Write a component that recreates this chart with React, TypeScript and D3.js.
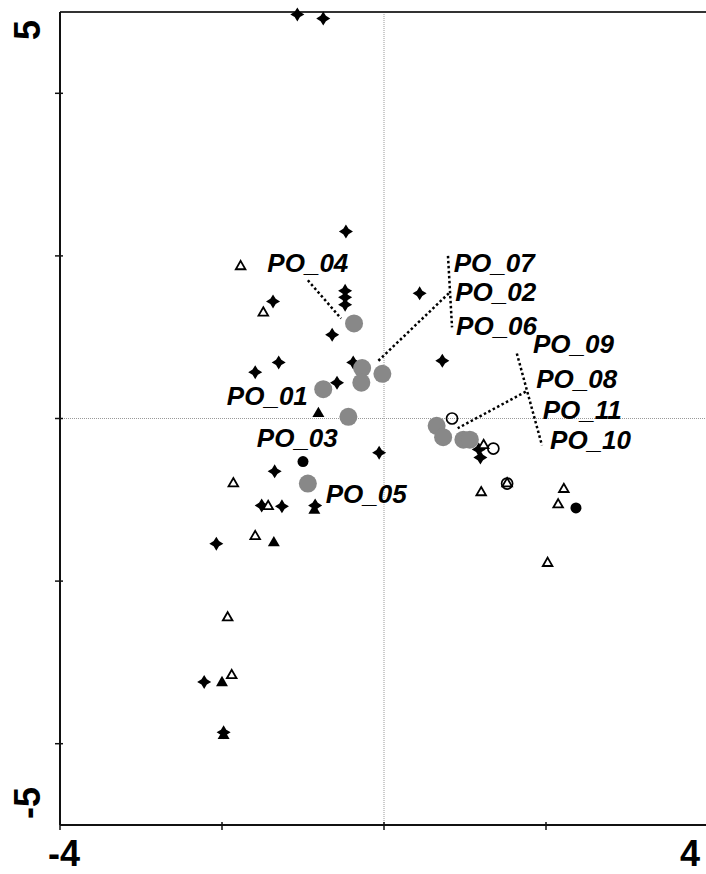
import React from "react";
import * as d3 from "d3";

// black marker groups, [x, y] in axis units
const stars: [number, number][] = [
  [-1.07, 4.97], [-0.75, 4.92], [-0.47, 2.30], [-0.48, 1.57], [-0.48, 1.49], [-0.48, 1.40],
  [-1.37, 1.44], [-0.64, 1.03], [-1.30, 0.69], [-1.59, 0.57], [-0.38, 0.69], [-0.58, 0.44],
  [0.44, 1.54], [0.72, 0.71], [-0.06, -0.42], [-1.35, -0.65], [-1.51, -1.07], [-1.26, -1.08],
  [-0.85, -1.07], [-2.07, -1.54], [1.17, -0.38], [1.19, -0.48], [-2.22, -3.24], [-1.98, -3.86],
];
const openTriangles: [number, number][] = [
  [-1.77, 1.87], [-1.49, 1.30], [-1.86, -0.80], [-1.43, -1.08], [-1.59, -1.45], [-1.93, -2.45],
  [-1.88, -3.16], [1.23, -0.33], [1.20, -0.91], [1.52, -0.80], [2.22, -0.87], [2.15, -1.06],
  [2.02, -1.78],
];
const filledTriangles: [number, number][] = [
  [-0.81, 0.06], [-0.86, -1.13], [-1.36, -1.53], [-2.00, -3.25], [-1.98, -3.90],
];
const filledCircles: [number, number][] = [[-1.00, -0.53], [2.37, -1.10]];
const openCircles: [number, number][] = [[0.84, 0.0], [1.35, -0.37], [1.52, -0.80]];

// labelled PO points
const poNames = ["PO_04", "PO_07", "PO_02", "PO_06", "PO_01", "PO_03", "PO_05", "PO_09", "PO_08", "PO_11", "PO_10"];
const poX = [-0.37, -0.27, -0.28, -0.02, -0.75, -0.44, -0.94, 0.65, 0.73, 0.98, 1.06];
const poY = [1.17, 0.62, 0.44, 0.55, 0.36, 0.02, -0.80, -0.09, -0.23, -0.26, -0.26];

// label anchors (start, baseline) in axis units
const labelX = [-1.44, 0.86, 0.88, 0.89, -1.94, -1.57, -0.72, 1.84, 1.88, 1.96, 2.05];
const labelY = [1.80, 1.80, 1.44, 1.03, 0.16, -0.35, -1.04, 0.80, 0.38, 0.00, -0.37];

// dotted leader lines
const leaders: [number, number, number, number][] = [
  [-0.94, 1.70, -0.53, 1.23],
  [0.79, 2.00, 0.84, 1.12],
  [0.80, 1.54, -0.07, 0.71],
  [1.64, 0.80, 1.95, -0.33],
  [1.75, 0.33, 0.91, -0.12],
];

const xTicks = [-4, -2, 0, 2, 4];
const yTicks = [-4, -2, 0, 2, 4];
const xTickLabels = ["-4", "4"];
const yTickLabels = ["5", "-5"];

const W = 706;
const H = 874;
const margin = { left: 60, right: -2, top: 12, bottom: 49 };

// 4 point star symbol
const star4 = {
  draw(ctx: any, size: number) {
    const r = Math.sqrt(size) * 0.72;
    const w = r * 0.38;
    ctx.moveTo(0, -r);
    ctx.lineTo(w, -w);
    ctx.lineTo(r, 0);
    ctx.lineTo(w, w);
    ctx.lineTo(0, r);
    ctx.lineTo(-w, w);
    ctx.lineTo(-r, 0);
    ctx.lineTo(-w, -w);
    ctx.closePath();
  },
};

export default function App() {
  const x = d3.scaleLinear().domain([-4, 4]).range([margin.left, W - margin.right]);
  const y = d3.scaleLinear().domain([-5, 5]).range([H - margin.bottom, margin.top]);
  const [x0, x1] = x.range();
  const [y0, y1] = y.range();

  const starPath = d3.symbol(star4, 95)()!;
  const triOpen = d3.symbol(d3.symbolTriangle, 40)()!;
  const triFilled = d3.symbol(d3.symbolTriangle, 62)()!;

  return (
    <svg width={W} height={H} style={{ position: "absolute", left: 0, top: 0, background: "#fff" }}
      fontFamily="'Liberation Sans', Arial, sans-serif">
      {/* zero lines */}
      <line x1={x(0)} x2={x(0)} y1={y1} y2={y0} stroke="#999" strokeWidth={1} strokeDasharray="1 1" />
      <line x1={x0} x2={x1} y1={y(0)} y2={y(0)} stroke="#999" strokeWidth={1} strokeDasharray="1 1" />

      {/* frame */}
      <line x1={x0} x2={x1} y1={y1} y2={y1} stroke="#333" strokeWidth={2} />
      <line x1={x0} x2={x0} y1={y1} y2={y0} stroke="#111" strokeWidth={2} />
      <line x1={x0} x2={x1} y1={y0} y2={y0} stroke="#111" strokeWidth={2} />
      {yTicks.map(t => (
        <line key={"yt" + t} x1={x0 - 5} x2={x0 + 3} y1={y(t)} y2={y(t)} stroke="#111" strokeWidth={1.5} />
      ))}
      {xTicks.map(t => (
        <line key={"xt" + t} x1={x(t)} x2={x(t)} y1={y0 - 3} y2={y0 + 5} stroke="#111" strokeWidth={1.5} />
      ))}

      {/* tick labels */}
      <text x={x(-4) - 12} y={H - 8} fontSize={36} fontWeight="bold">{xTickLabels[0]}</text>
      <text x={x(4) - 28} y={H - 8} fontSize={36} fontWeight="bold">{xTickLabels[1]}</text>
      <text transform={`translate(40, ${y(5) + 18}) rotate(-90)`} textAnchor="middle" fontSize={36} fontWeight="bold">{yTickLabels[0]}</text>
      <text transform={`translate(40, ${y(-5) - 22}) rotate(-90)`} textAnchor="middle" fontSize={36} fontWeight="bold">{yTickLabels[1]}</text>

      {/* black markers */}
      {stars.map(([a, b], i) => (
        <path key={"s" + i} d={starPath} transform={`translate(${x(a)},${y(b)})`} fill="#000" />
      ))}
      {filledTriangles.map(([a, b], i) => (
        <path key={"ft" + i} d={triFilled} transform={`translate(${x(a)},${y(b)})`} fill="#000" />
      ))}
      {openTriangles.map(([a, b], i) => (
        <path key={"ot" + i} d={triOpen} transform={`translate(${x(a)},${y(b)})`} fill="#fff" stroke="#000" strokeWidth={1.8} />
      ))}
      {filledCircles.map(([a, b], i) => (
        <circle key={"fc" + i} cx={x(a)} cy={y(b)} r={5.5} fill="#000" />
      ))}

      {/* PO points */}
      {poX.map((a, i) => (
        <circle key={"po" + i} cx={x(a)} cy={y(poY[i])} r={9} fill="#888" />
      ))}
      {openCircles.map(([a, b], i) => (
        <circle key={"oc" + i} cx={x(a)} cy={y(b)} r={5.5} fill="none" stroke="#000" strokeWidth={1.7} />
      ))}

      {/* leader lines */}
      {leaders.map(([a, b, c, d], i) => (
        <line key={"l" + i} x1={x(a)} y1={y(b)} x2={x(c)} y2={y(d)} stroke="#000" strokeWidth={2.5} strokeDasharray="2.5 2.5" />
      ))}

      {/* labels */}
      {poNames.map((n, i) => (
        <text key={"lb" + i} x={x(labelX[i])} y={y(labelY[i])} fontSize={26} fontWeight="bold" fontStyle="italic">{n}</text>
      ))}
    </svg>
  );
}
